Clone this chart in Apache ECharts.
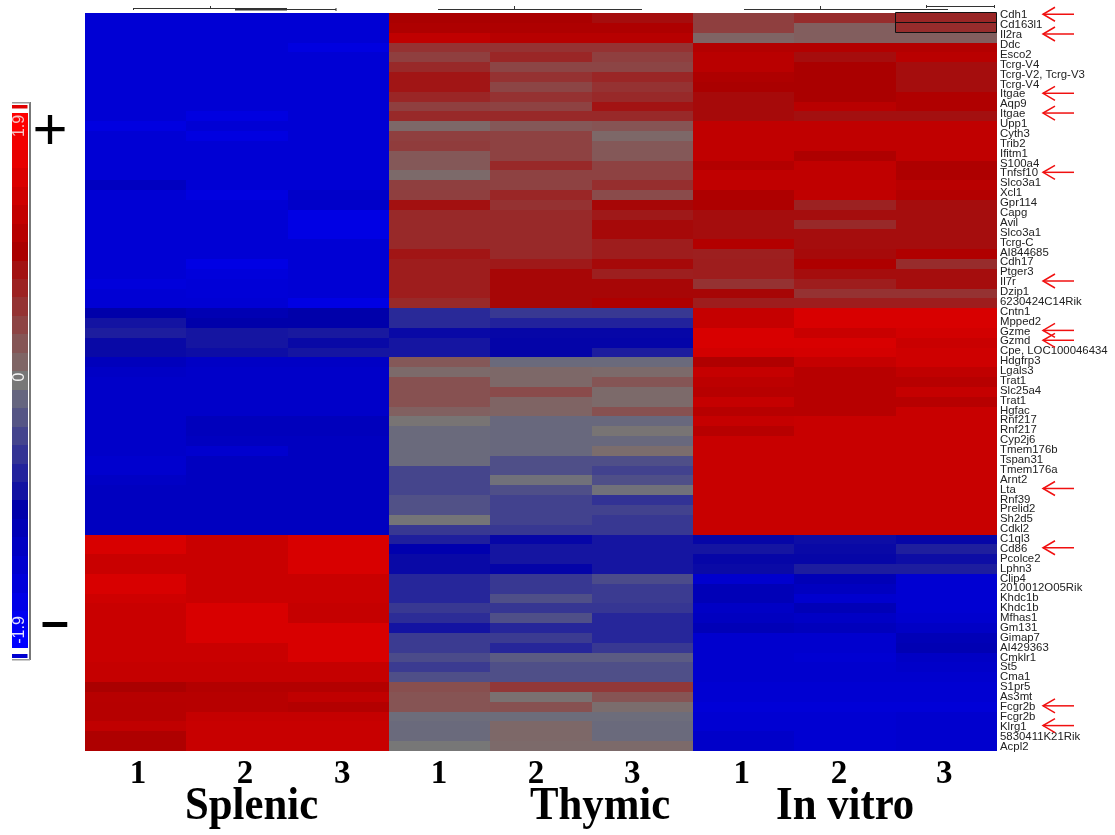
<!DOCTYPE html>
<html><head><meta charset="utf-8">
<style>html,body{margin:0;padding:0;background:#fff}#c{width:1115px;height:835px}</style>
<script src="https://cdn.jsdelivr.net/npm/echarts@6/dist/echarts.min.js"></script>
</head><body><div id="c"></div>
<script>
var genes=["Cdh1","Cd163l1","Il2ra","Ddc","Esco2","Tcrg-V4","Tcrg-V2, Tcrg-V3","Tcrg-V4","Itgae","Aqp9","Itgae","Upp1","Cyth3","Trib2","Ifitm1","S100a4","Tnfsf10","Slco3a1","Xcl1","Gpr114","Capg","Avil","Slco3a1","Tcrg-C","AI844685","Cdh17","Ptger3","Il7r","Dzip1","6230424C14Rik","Cntn1","Mpped2","Gzme","Gzmd","Cpe, LOC100046434","Hdgfrp3","Lgals3","Trat1","Slc25a4","Trat1","Hgfac","Rnf217","Rnf217","Cyp2j6","Tmem176b","Tspan31","Tmem176a","Arnt2","Lta","Rnf39","Prelid2","Sh2d5","Cdkl2","C1ql3","Cd86","Pcolce2","Lphn3","Clip4","2010012O05Rik","Khdc1b","Khdc1b","Mfhas1","Gm131","Gimap7","AI429363","Cmklr1","St5","Cma1","S1pr5","As3mt","Fcgr2b","Fcgr2b","Klrg1","5830411K21Rik","Acpl2"];
var arrowedRows=[0,2,8,10,16,27,32,33,48,54,70,72];
var sampleTicks=["1","2","3","1","2","3","1","2","3"];
var splenic1=[-1.42,-1.42,-1.42,-1.42,-1.42,-1.42,-1.42,-1.42,-1.42,-1.42,
-1.42,-1.55,-1.42,-1.42,-1.42,-1.42,-1.42,-1.2,-1.42,-1.42,
-1.42,-1.42,-1.42,-1.42,-1.42,-1.42,-1.42,-1.5,-1.42,-1.42,
-.95,-.8,-.72,-.88,-.88,-1.15,-1.25,-1.3,-1.3,-1.3,
-1.3,-1.3,-1.3,-1.3,-1.3,-1.35,-1.35,-1.25,-1.2,-1.2,
-1.2,-1.2,-1.2,1.46,1.46,1.3,1.3,1.46,1.46,1.35,
1.3,1.3,1.3,1.3,1.3,1.3,1.25,1.25,.95,1.1,
1.08,1.08,1.2,1.0,1.0];
var splenic2=[-1.42,-1.42,-1.42,-1.42,-1.42,-1.42,-1.42,-1.42,-1.42,-1.42,
-1.55,-1.42,-1.55,-1.42,-1.42,-1.42,-1.42,-1.42,-1.55,-1.42,
-1.42,-1.42,-1.42,-1.42,-1.42,-1.6,-1.5,-1.45,-1.45,-1.42,
-1.05,-.95,-.78,-.78,-.85,-1.25,-1.3,-1.3,-1.3,-1.3,
-1.3,-1.15,-1.15,-1.2,-1.35,-1.2,-1.2,-1.2,-1.2,-1.2,
-1.2,-1.2,-1.2,1.3,1.3,1.3,1.3,1.3,1.3,1.3,
1.46,1.46,1.46,1.46,1.3,1.3,1.25,1.25,1.05,1.1,
1.1,1.25,1.28,1.28,1.28];
var splenic3=[-1.42,-1.42,-1.42,-1.55,-1.42,-1.42,-1.42,-1.42,-1.42,-1.42,
-1.42,-1.42,-1.42,-1.42,-1.42,-1.42,-1.42,-1.42,-1.3,-1.3,
-1.6,-1.6,-1.6,-1.42,-1.42,-1.42,-1.42,-1.42,-1.42,-1.6,
-.95,-.95,-.75,-.88,-.78,-1.25,-1.3,-1.3,-1.3,-1.3,
-1.3,-1.15,-1.15,-1.2,-1.2,-1.2,-1.2,-1.2,-1.2,-1.2,
-1.2,-1.2,-1.2,1.46,1.46,1.46,1.46,1.3,1.3,1.3,
1.25,1.25,1.46,1.46,1.46,1.46,1.25,1.25,1.05,1.2,
1.05,1.25,1.28,1.28,1.28];
var thymic1=[.95,1.0,1.2,.55,.45,.62,.78,.78,.65,.45,
.62,.12,.45,.47,.25,.25,.1,.45,.45,.82,
.62,.62,.62,.62,.78,.72,.72,.72,.72,.62,
-.62,-.62,-.88,-.78,-.78,.25,.1,.3,.3,.3,
.18,.02,-.1,-.1,-.1,-.1,-.4,-.4,-.4,-.3,
-.3,-.02,-.5,-.7,-1.0,-.88,-.88,-.65,-.65,-.65,
-.5,-.6,-.8,-.48,-.48,-.35,-.48,-.32,.32,.28,
.28,-.08,-.1,-.1,0];
var thymic2=[.95,1.0,1.1,.55,.65,.4,.55,.4,.55,.42,
.62,.25,.42,.42,.42,.62,.42,.42,.65,.55,
.62,.62,.62,.62,.62,.75,.9,.9,.9,.9,
-.5,-.68,-.9,-.92,-.92,-.1,.12,.12,.35,.15,
.15,-.12,-.12,-.12,-.12,-.32,-.32,-.05,-.32,-.42,
-.42,-.42,-.5,-.9,-.78,-.78,-.92,-.5,-.5,-.32,
-.52,-.32,-.65,-.48,-.65,-.22,-.32,-.32,.5,.05,
.3,-.08,.12,.12,.1];
var thymic3=[.85,1.0,1.1,.55,.45,.4,.65,.55,.62,.8,
.62,.28,.12,.25,.25,.42,.42,.58,.35,.9,
.75,.88,.88,.72,.72,.88,.7,.9,.9,1.0,
-.5,-.68,-.9,-.92,-.72,-.1,.1,.27,.1,.1,
.3,-.12,.02,-.12,.08,-.32,-.42,-.32,-.05,-.55,
-.42,-.5,-.5,-.78,-.78,-.78,-.78,-.35,-.48,-.48,
-.52,-.65,-.65,-.65,-.5,-.22,-.32,-.32,.5,.28,
.08,-.08,-.1,-.1,.1];
var vitro1=[.45,.45,.15,1.05,1.12,1.12,1.0,.95,.87,.87,
.87,1.2,1.2,1.2,1.2,1.05,1.2,1.2,1.0,1.0,
.85,.85,.85,1.05,.7,.72,.72,.55,.9,.72,
1.25,1.25,1.46,1.46,1.4,1.02,1.25,1.15,1.1,1.25,
1.1,1.25,1.1,1.28,1.28,1.28,1.28,1.28,1.28,1.28,
1.28,1.28,1.28,-.9,-.78,-.9,-.87,-1.35,-1.1,-1.1,
-1.25,-1.2,-1.1,-1.35,-1.35,-1.35,-1.35,-1.35,-1.4,-1.4,
-1.45,-1.4,-1.4,-1.3,-1.3];
var vitro2=[.6,.2,.2,1.05,.85,.95,.95,.95,.95,1.12,
.82,1.2,1.2,1.2,1.0,1.2,1.2,1.2,1.2,.68,
.85,.62,.85,.85,.87,1.0,.85,.72,.55,.72,
1.46,1.46,1.3,1.46,1.42,1.25,1.1,1.1,1.1,1.1,
1.1,1.28,1.28,1.28,1.28,1.28,1.28,1.28,1.28,1.28,
1.28,1.28,1.28,-.85,-.88,-.9,-.72,-1.1,-1.2,-1.35,
-1.1,-1.25,-1.15,-1.35,-1.35,-1.4,-1.35,-1.35,-1.4,-1.4,
-1.45,-1.4,-1.4,-1.4,-1.4];
var vitro3=[.65,.6,.2,1.05,1.12,.85,.85,.85,1.02,1.02,
.82,1.2,1.2,1.2,1.2,1.0,1.0,1.12,1.05,.85,
.85,.85,.85,.85,1.02,.6,.85,.85,.55,.72,
1.46,1.46,1.4,1.3,1.35,1.35,1.2,1.1,1.25,1.1,
1.28,1.28,1.28,1.28,1.28,1.28,1.28,1.28,1.28,1.28,
1.28,1.28,1.28,-.9,-.7,-.85,-.72,-1.4,-1.4,-1.4,
-1.4,-1.35,-1.25,-1.1,-1.05,-1.25,-1.3,-1.35,-1.4,-1.4,
-1.45,-1.35,-1.35,-1.35,-1.35];
var scaleSteps=[1.9,1.76,1.63,1.49,1.35,1.22,1.08,.95,.81,.68,.54,.41,.27,.14,0,-.14,-.27,-.41,-.54,-.68,-.81,-.95,-1.08,-1.22,-1.35,-1.49,-1.63,-1.76,-1.9];

var columns=[splenic1,splenic2,splenic3,thymic1,thymic2,thymic3,vitro1,vitro2,vitro3];
var cells=[];
columns.forEach(function(col,c){col.forEach(function(v,r){cells.push([c,r,v]);});});
var scaleCells=scaleSteps.map(function(v,i){return [0,i,v];});
var tickShift=[2.4,8,4,-.7,-5,-10,-2,-6,-2];
var rich={};
tickShift.forEach(function(d,i){rich['t'+i]={fontFamily:'Liberation Serif',fontWeight:'bold',fontSize:33,color:'#000',padding:d>0?[0,0,0,2*d]:[0,-2*d,0,0]};});

function renderCell(params,api){
 var c=api.coord([api.value(0),api.value(1)]), s=api.size([1,1]);
 var x1=Math.round(c[0]-s[0]/2), x2=Math.round(c[0]+s[0]/2), y1=Math.round(c[1]-s[1]/2), y2=Math.round(c[1]+s[1]/2);
 return {type:'rect',shape:{x:x1,y:y1,width:x2-x1,height:y2-y1},style:{fill:api.visual('color')}};
}
function seg(x1,y1,x2,y2,w){return {type:'line',silent:true,shape:{x1:x1,y1:y1,x2:x2,y2:y2},style:{stroke:'#333',lineWidth:w||1}};}
function groupText(t,x){return {type:'text',x:x,y:830,scaleX:.93,silent:true,style:{text:t,fill:'#000',font:'bold 46px "Liberation Serif"',textAlign:'left',textVerticalAlign:'bottom'}};}
function barText(t,y,fill){return {type:'text',x:19.5,y:y,rotation:Math.PI/2,silent:true,z:10,style:{text:t,fill:fill,font:'16px "Liberation Sans"',textAlign:'center',textVerticalAlign:'middle'}};}

var graphics=[
 seg(133.5,8.5,287,8.5), seg(210.5,6,210.5,8.5), seg(235,9.5,287,9.5,2), seg(287,9.5,336,9.5),
 seg(133.5,8,133.5,10), seg(336,8,336,11),
 seg(438,9.5,642,9.5), seg(514.5,6,514.5,9.5),
 seg(744,9.5,948,9.5), seg(820.5,6,820.5,9.5),
 seg(926.5,6.5,995,6.5), seg(926.5,5,926.5,8), seg(994.5,5,994.5,8),
 {type:'rect',silent:true,z:10,shape:{x:895.5,y:12.5,width:101,height:20},style:{fill:'none',stroke:'#111',lineWidth:1}},
 {type:'line',silent:true,z:10,shape:{x1:895.5,y1:22.5,x2:996.5,y2:22.5},style:{stroke:'#111',lineWidth:1}},
 {type:'rect',silent:true,shape:{x:29,y:102,width:2,height:558},style:{fill:'#777'}},
 {type:'rect',silent:true,shape:{x:12,y:102,width:18,height:1.5},style:{fill:'#999'}},
 {type:'rect',silent:true,shape:{x:12,y:659,width:18,height:1.5},style:{fill:'#999'}},
 {type:'rect',silent:true,shape:{x:12,y:105,width:15.5,height:3.5},style:{fill:'#e00000'}},
 {type:'rect',silent:true,shape:{x:12,y:654,width:15.5,height:4},style:{fill:'#0000d0'}},
 barText('1.9',126,'#f6c4c4'), barText('0',377,'#f4f4f4'), barText('-1.9',630,'#e0e0ff'),
 groupText('Splenic',185), groupText('Thymic',530), groupText('In vitro',776),
 {type:'text',x:50,y:132,silent:true,style:{text:'+',fill:'#000',font:'60px "Liberation Sans"',textAlign:'center',textVerticalAlign:'middle'}},
 {type:'text',x:55,y:624,silent:true,style:{text:'\u2013',fill:'#000',font:'bold 50px "Liberation Sans"',textAlign:'center',textVerticalAlign:'middle'}}
];

var chart=echarts.init(document.getElementById('c'),null,{renderer:'canvas'});
var hidden={show:false};
chart.setOption({
 animation:false,
 backgroundColor:'#fff',
 tooltip:{show:false},
 visualMap:{show:false,type:'continuous',min:-1.9,max:1.9,dimension:2,seriesIndex:[0,1],
   inRange:{color:['#0000ff','#0000aa','#777777','#aa0000','#ff0000']}},
 grid:[
  {left:85,top:13,width:912,height:738},
  {left:997,top:10.3,width:118,height:741},
  {left:12,top:113,width:15.5,height:535}
 ],
 xAxis:[
  {type:'category',gridIndex:0,data:sampleTicks.map(function(s,i){return i+':'+s;}),axisLine:hidden,axisTick:hidden,splitLine:hidden,
   axisLabel:{interval:0,margin:7,rich:rich,formatter:function(v){var p=v.split(':');return '{t'+p[0]+'|'+p[1]+'}';}}},
  {type:'value',gridIndex:1,min:0,max:118,show:false},
  {type:'category',gridIndex:2,data:['scale'],show:false}
 ],
 yAxis:[
  {type:'category',gridIndex:0,inverse:true,data:genes,show:false},
  {type:'category',gridIndex:1,inverse:true,data:genes,position:'left',axisLine:hidden,axisTick:hidden,splitLine:hidden,
   axisLabel:{show:true,interval:0,inside:true,margin:3,fontFamily:'Liberation Sans',fontSize:11.4,color:'#222',align:'left'}},
  {type:'category',gridIndex:2,inverse:true,data:scaleSteps.map(String),show:false}
 ],
 series:[
  {type:'custom',xAxisIndex:0,yAxisIndex:0,data:cells,encode:{x:0,y:1},renderItem:renderCell,silent:true},
  {type:'custom',xAxisIndex:2,yAxisIndex:2,data:scaleCells,encode:{x:0,y:1},renderItem:renderCell,silent:true},
  {type:'custom',xAxisIndex:1,yAxisIndex:1,clip:false,silent:true,
   data:arrowedRows.map(function(r){return [46,r];}),
   encode:{x:0,y:1},
   renderItem:function(params,api){
    var tip=api.coord([api.value(0),api.value(1)]);
    var ty=tip[1]-1;
    return {type:'group',children:[
     {type:'polyline',shape:{points:[[tip[0]+31,ty],[tip[0],ty]]},style:{stroke:'#f01010',fill:null,lineWidth:1.5}},
     {type:'polyline',shape:{points:[[tip[0]+12,ty-7],[tip[0],ty],[tip[0]+12,ty+7]]},style:{stroke:'#f01010',fill:null,lineWidth:1.5}}
    ]};
   }}
 ],
 graphic:graphics
});
</script></body></html>
